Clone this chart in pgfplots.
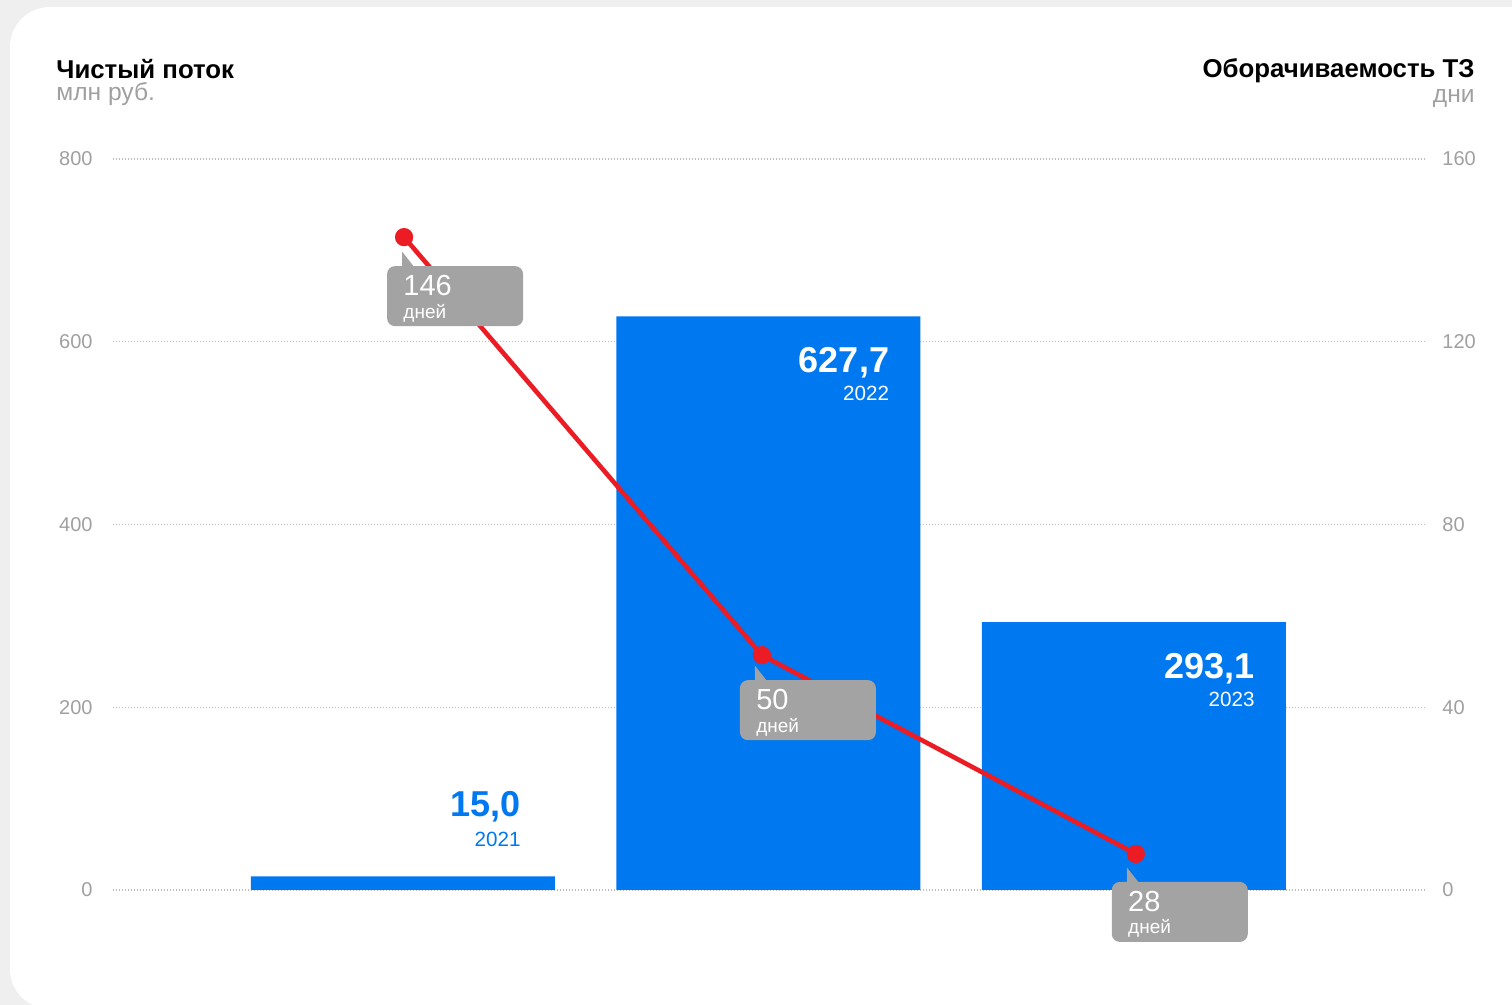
\documentclass[border=0pt]{standalone}
\usepackage{pgfplots}
\pgfplotsset{compat=1.18}
\usepackage{fontspec}
\setmainfont{Liberation Sans}
\definecolor{barblue}{HTML}{0078EF}
\definecolor{linered}{HTML}{EC1C24}
\definecolor{boxgray}{HTML}{A3A3A3}
\definecolor{txtgray}{HTML}{A0A0A0}
\definecolor{bggray}{HTML}{EFEFEF}
\definecolor{gridgray}{HTML}{BDBDBD}

\newcommand{\callout}[4]{%
  \begin{scope}[shift={(#1)}, x=0.5pt, y=-0.5pt]
    \fill[boxgray, rounded corners=4pt] (#2,#3) rectangle ++(136,60);
    \fill[boxgray] (#2+15,#3-14.5) -- (#2+15,#3+2) -- (#2+28,#3+2) -- cycle;
    \node[anchor=base west, inner sep=0pt, text=white, font=\fontsize{14.5}{14.5}\selectfont] at (#2+16,#3+29.5) {#4};
    \node[anchor=base west, inner sep=0pt, text=white, font=\fontsize{9.5}{9.5}\selectfont] at (#2+16,#3+52) {дней};
  \end{scope}}

\begin{document}
\begin{tikzpicture}
\useasboundingbox (0,0) rectangle (756pt,-502.5pt);
\clip (0,0) rectangle (756pt,-502.5pt);
\fill[bggray] (0,0) rectangle (756pt,-502.5pt);
\begin{scope}[x=0.5pt, y=-0.5pt]
  \fill[white, rounded corners=20pt] (10,7) rectangle (1580,1009);
  \node[anchor=base west, inner sep=0pt, font=\bfseries\fontsize{12.9}{12.9}\selectfont] at (56,79) {Чистый поток};
  \node[anchor=base west, inner sep=0pt, text=txtgray, font=\fontsize{12.3}{12.3}\selectfont] at (56,101) {млн руб.};
  \node[anchor=base east, inner sep=0pt, font=\bfseries\fontsize{12.9}{12.9}\selectfont] at (1475,77.5) {Оборачиваемость ТЗ};
  \node[anchor=base east, inner sep=0pt, text=txtgray, font=\fontsize{12.3}{12.3}\selectfont] at (1475,103) {дни};
\end{scope}

\begin{axis}[
  at={(56.5pt,-445pt)}, anchor=south west,
  scale only axis, width=656pt, height=365.5pt,
  xmin=-0.7934, xmax=2.7963, ymin=0, ymax=800,
  axis line style={draw=none},
  xtick=\empty, ytick={0,200,400,600,800},
  major tick length=0pt,
  ymajorgrids, grid style={gridgray, line width=0.6pt, dash pattern=on 0.6pt off 0.9pt},
  /pgf/number format/assume math mode=true,
  yticklabel style={font=\fontsize{10}{10}\selectfont, text=txtgray, inner sep=0pt, anchor=east, xshift=-10pt},
  clip=false,
]
\addplot[ybar, bar width=152pt, fill=barblue, draw=none] coordinates {(0,15) (1,627.7) (2,293.1)};
\node[anchor=base east, inner sep=0pt, text=barblue, font=\bfseries\fontsize{18}{18}\selectfont, yshift=30pt] at (axis cs:0.3228,15) {15,0};
\node[anchor=base east, inner sep=0pt, text=barblue, font=\fontsize{10.3}{10.3}\selectfont, yshift=15pt] at (axis cs:0.3228,15) {2021};
\node[anchor=base east, inner sep=0pt, text=white, font=\bfseries\fontsize{18}{18}\selectfont, yshift=-28pt] at (axis cs:1.331,627.7) {627,7};
\node[anchor=base east, inner sep=0pt, text=white, font=\fontsize{10.3}{10.3}\selectfont, yshift=-42pt] at (axis cs:1.331,627.7) {2022};
\node[anchor=base east, inner sep=0pt, text=white, font=\bfseries\fontsize{18}{18}\selectfont, yshift=-28pt] at (axis cs:2.331,293.1) {293,1};
\node[anchor=base east, inner sep=0pt, text=white, font=\fontsize{10.3}{10.3}\selectfont, yshift=-42pt] at (axis cs:2.331,293.1) {2023};
\end{axis}

\begin{axis}[
  at={(56.5pt,-445pt)}, anchor=south west,
  scale only axis, width=656pt, height=365.5pt,
  xmin=-0.7934, xmax=2.7963, ymin=0, ymax=160,
  axis line style={draw=none},
  xtick=\empty, ytick={0,40,80,120,160},
  major tick length=0pt,
  yticklabel pos=right,
  /pgf/number format/assume math mode=true,
  yticklabel style={font=\fontsize{10}{10}\selectfont, text=txtgray, inner sep=0pt, anchor=west, xshift=8.5pt},
  clip=false,
]
\addplot[linered, line width=2.3pt, mark=*, mark size=3.4pt, mark options={fill=linered, draw=none}] coordinates {(0.003,142.9) (0.982,51.4) (2.005,7.9)};
\coordinate (c1) at (axis cs:0.003,142.9);
\coordinate (c2) at (axis cs:0.982,51.4);
\coordinate (c3) at (axis cs:2.005,7.9);
\end{axis}

\callout{c1}{-17}{29}{146}
\callout{c2}{-22}{25}{50}
\callout{c3}{-24}{28}{28}
\end{tikzpicture}
\end{document}
